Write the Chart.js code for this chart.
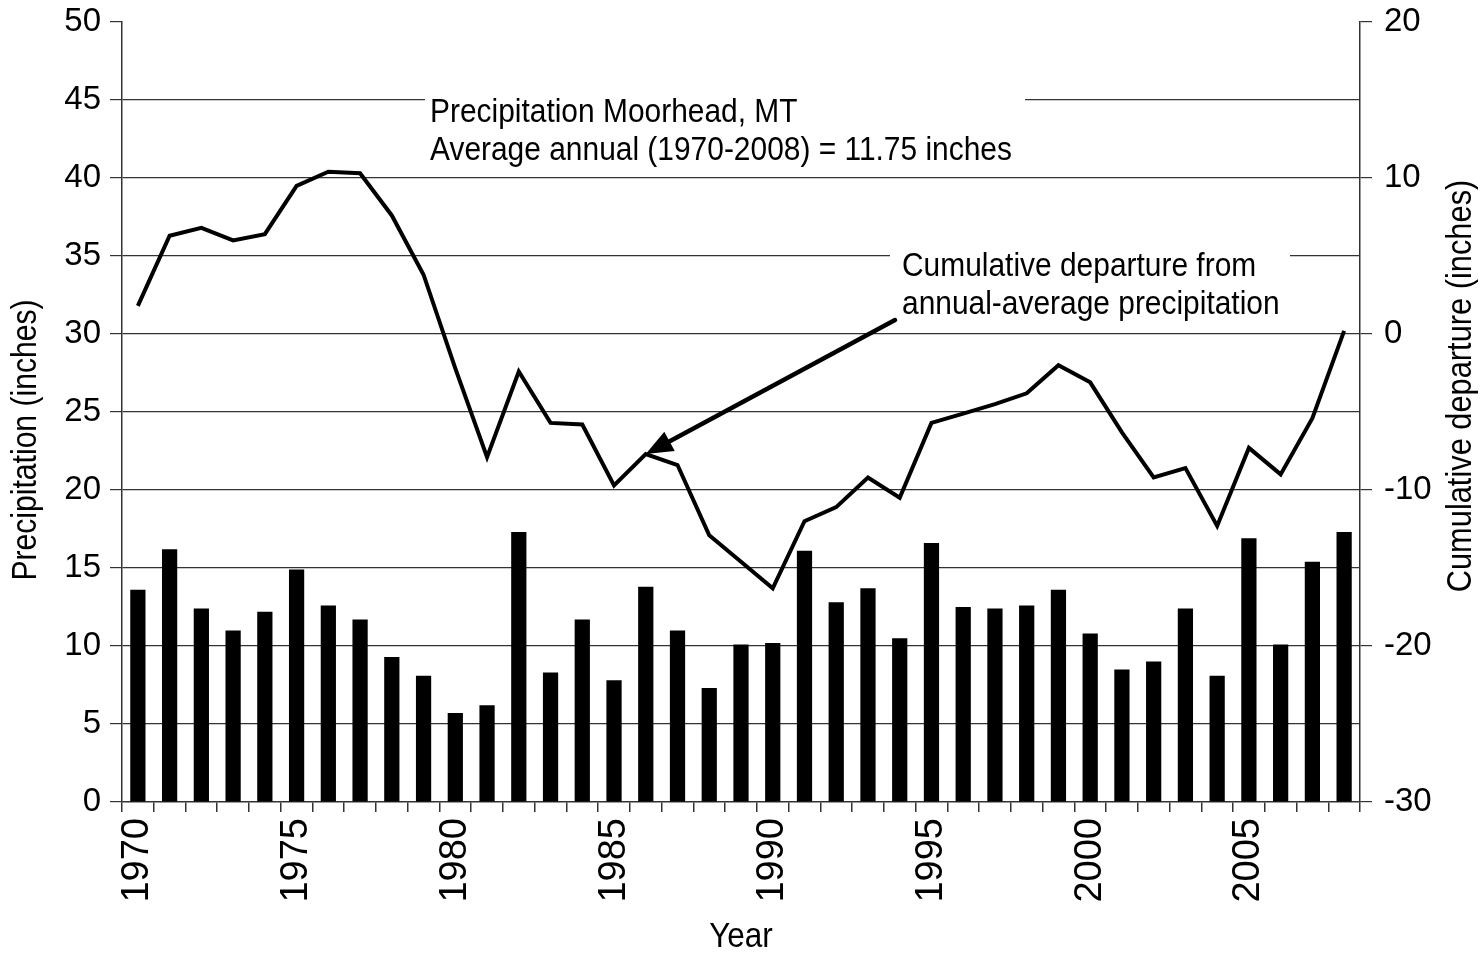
<!DOCTYPE html>
<html>
<head>
<meta charset="utf-8">
<script src="https://cdn.jsdelivr.net/npm/chart.js@4"></script>
<style>
  body { margin: 0; background: #fff; }
  #wrap { width: 1482px; height: 954px; }
</style>
</head>
<body>
<div id="wrap"><canvas id="precipChart" width="1482" height="954"></canvas></div>
<script>
const FONT = "'Liberation Sans', Arial, sans-serif";

const years = ['1970', '1971', '1972', '1973', '1974', '1975', '1976', '1977', '1978', '1979',
  '1980', '1981', '1982', '1983', '1984', '1985', '1986', '1987', '1988', '1989',
  '1990', '1991', '1992', '1993', '1994', '1995', '1996', '1997', '1998', '1999',
  '2000', '2001', '2002', '2003', '2004', '2005', '2006', '2007', '2008'];
const yearLabels = ['1970', '1975', '1980', '1985', '1990', '1995', '2000', '2005'];

// annual precipitation, inches (left axis)
const precipitation = [13.6, 16.2, 12.4, 11.0, 12.2, 14.9, 12.6, 11.7, 9.3, 8.1,
  5.7, 6.2, 17.3, 8.3, 11.7, 7.8, 13.8, 11.0, 7.3, 10.1,
  10.2, 16.1, 12.8, 13.7, 10.5, 16.6, 12.5, 12.4, 12.6, 13.6,
  10.8, 8.5, 9.0, 12.4, 8.1, 16.9, 10.1, 15.4, 17.3];

// cumulative departure from the annual average, inches (right axis)
const cumulativeDeparture = [1.8, 6.3, 6.8, 6.0, 6.4, 9.5, 10.4, 10.3, 7.6, 3.8,
  -2.2, -7.9, -2.4, -5.7, -5.8, -9.7, -7.7, -8.4, -12.9, -14.6,
  -16.3, -12.0, -11.1, -9.2, -10.5, -5.7, -5.1, -4.5, -3.8, -2.0,
  -3.1, -6.3, -9.2, -8.6, -12.3, -7.3, -9.0, -5.4, 0.2];

const arrowYear = '1986';

// draw text squeezed horizontally, like the narrow font of the original
function narrowText(ctx, text, x, y, size, squeeze, angle) {
  ctx.save();
  ctx.translate(x, y);
  if (angle) ctx.rotate(angle);
  ctx.scale(squeeze, 1);
  ctx.font = `${size}px ${FONT}`;
  ctx.fillText(text, 0, 0);
  ctx.restore();
}

const annotationPlugin = {
  id: 'annotations',
  beforeDatasetsDraw(chart) {
    const ctx = chart.ctx;
    ctx.save();
    // white boxes behind the notes hide the grid lines
    ctx.fillStyle = '#fff';
    ctx.fillRect(425, 88, 600, 82);
    ctx.fillRect(890, 243, 400, 80);

    ctx.fillStyle = '#000';
    ctx.textAlign = 'left';
    ctx.textBaseline = 'alphabetic';
    narrowText(ctx, 'Precipitation Moorhead, MT', 430, 122, 34, 0.88);
    narrowText(ctx, 'Average annual (1970-2008) = 11.75 inches', 430, 160, 34, 0.88);
    narrowText(ctx, 'Cumulative departure from', 902, 276, 34, 0.88);
    narrowText(ctx, 'annual-average precipitation', 902, 314, 34, 0.88);
    ctx.restore();
  },
  afterDraw(chart) {
    const ctx = chart.ctx;
    const x = chart.scales.x;
    const y2 = chart.scales.y2;
    const idx = years.indexOf(arrowYear);
    const tipX = x.getPixelForValue(idx);
    const tipY = y2.getPixelForValue(cumulativeDeparture[idx]);
    const tailX = 895, tailY = 320;

    const ang = Math.atan2(tipY - tailY, tipX - tailX);
    const headLen = 27, headHalf = 11;
    const baseX = tipX - headLen * Math.cos(ang);
    const baseY = tipY - headLen * Math.sin(ang);

    ctx.save();
    ctx.strokeStyle = '#000';
    ctx.fillStyle = '#000';
    ctx.lineWidth = 4.5;
    ctx.lineCap = 'round';
    ctx.beginPath();
    ctx.moveTo(tailX, tailY);
    ctx.lineTo(baseX + 4 * Math.cos(ang), baseY + 4 * Math.sin(ang));
    ctx.stroke();
    ctx.beginPath();
    ctx.moveTo(tipX, tipY);
    ctx.lineTo(baseX + headHalf * Math.sin(ang), baseY - headHalf * Math.cos(ang));
    ctx.lineTo(baseX - headHalf * Math.sin(ang), baseY + headHalf * Math.cos(ang));
    ctx.closePath();
    ctx.fill();

    // axis titles
    const area = chart.chartArea;
    ctx.textAlign = 'center';
    ctx.textBaseline = 'middle';
    narrowText(ctx, 'Precipitation (inches)', 26, 440, 35, 0.86, -Math.PI / 2);
    narrowText(ctx, 'Cumulative departure (inches)', 1461, 386, 35, 0.88, -Math.PI / 2);
    narrowText(ctx, 'Year', (area.left + area.right) / 2, 937, 35, 0.9);
    ctx.restore();
  }
};

function initChart() {
  const ctx = document.getElementById('precipChart').getContext('2d');
  Chart.defaults.font.family = FONT;
  Chart.defaults.color = '#000';

  new Chart(ctx, {
    type: 'bar',
    data: {
      labels: years,
      datasets: [{
        type: 'line',
        label: 'Cumulative departure',
        data: cumulativeDeparture,
        yAxisID: 'y2',
        borderColor: '#000',
        borderWidth: 4,
        pointRadius: 0,
        tension: 0,
        fill: false,
        order: 0
      }, {
        type: 'bar',
        label: 'Precipitation',
        data: precipitation,
        yAxisID: 'y',
        backgroundColor: '#000',
        borderWidth: 0,
        categoryPercentage: 1,
        barPercentage: 0.48,
        order: 1
      }]
    },
    options: {
      responsive: false,
      animation: false,
      layout: { padding: { top: 22, left: 0, right: 0, bottom: 0 } },
      plugins: { legend: { display: false }, tooltip: { enabled: false } },
      scales: {
        x: {
          offset: true,
          grid: { display: true, drawOnChartArea: false, offset: true, tickLength: 10, color: '#333', lineWidth: 1.5 },
          border: { color: '#333', width: 1.5 },
          ticks: {
            autoSkip: false,
            minRotation: 90,
            maxRotation: 90,
            padding: 6,
            font: { size: 38 },
            callback: (value, i) => (yearLabels.includes(years[i]) ? years[i] : '')
          },
          afterFit: (scale) => {
            scale.height = 152;
            scale.paddingLeft = 0;
            scale.paddingRight = 0;
          }
        },
        y: {
          position: 'left',
          min: 0,
          max: 50,
          grid: {
            color: (c) => (c.tick.value === 0 || c.tick.value === 50 ? 'rgba(0,0,0,0)' : '#333'),
            tickColor: '#333',
            tickLength: 12,
            lineWidth: 1.2
          },
          border: { color: '#333', width: 1.5 },
          ticks: { stepSize: 5, padding: 9, font: { size: 33 } },
          afterFit: (scale) => {
            scale.width = 122;
            scale.paddingTop = 0;
            scale.paddingBottom = 0;
          }
        },
        y2: {
          position: 'right',
          min: -30,
          max: 20,
          grid: { drawOnChartArea: false, tickColor: '#333', tickLength: 12, lineWidth: 1.2 },
          border: { color: '#333', width: 1.5 },
          ticks: { stepSize: 10, padding: 12, font: { size: 33 } },
          afterFit: (scale) => {
            scale.width = 122;
            scale.paddingTop = 0;
            scale.paddingBottom = 0;
          }
        }
      }
    },
    plugins: [annotationPlugin]
  });
}

document.addEventListener('DOMContentLoaded', initChart);
</script>
</body>
</html>
